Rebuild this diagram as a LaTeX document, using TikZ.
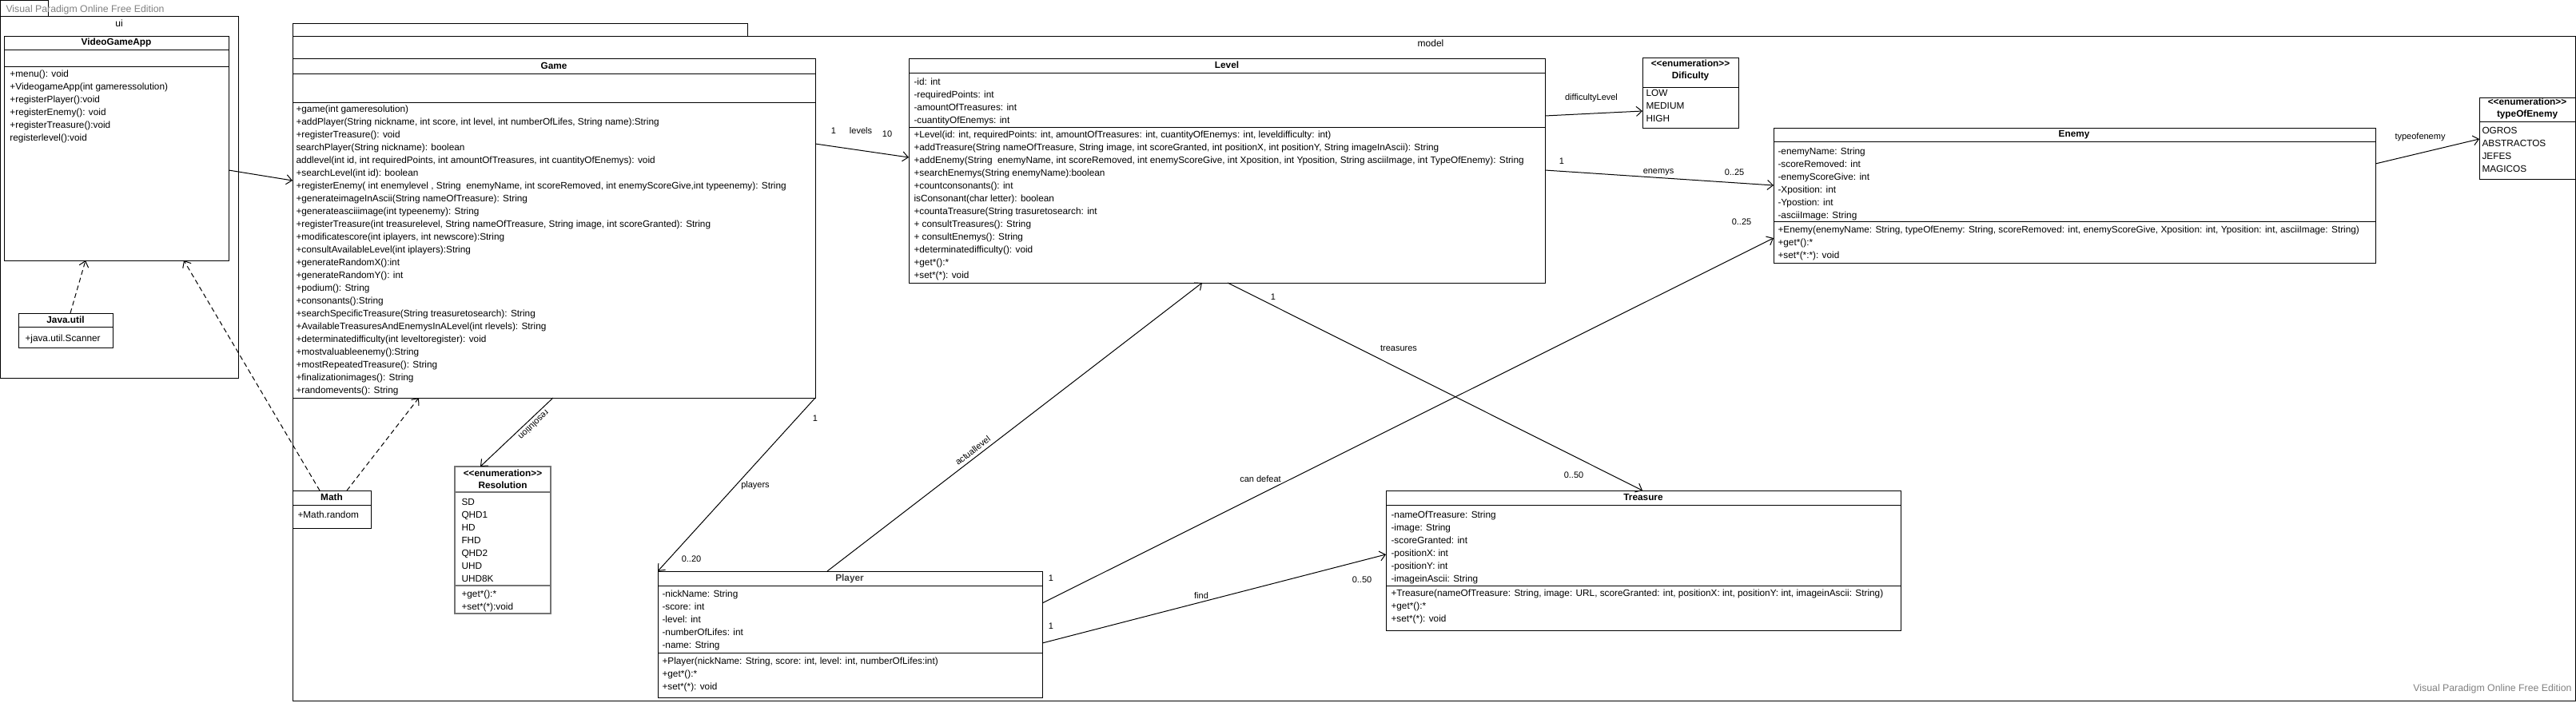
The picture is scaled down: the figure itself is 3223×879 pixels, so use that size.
\documentclass[tikz,border=0pt]{standalone}
\usepackage{fontspec}
\setmainfont{Liberation Sans}
\usetikzlibrary{arrows.meta}

\tikzset{
	umlclass/.style={draw, inner sep=0pt, outer sep=0pt, anchor=north west, fill=white},
	cname/.style={font=\bfseries\fontsize{11.8}{15}\selectfont, inner sep=0pt, align=center},
	members/.style={anchor=north west, align=left, inner sep=0pt, font=\fontsize{11.8}{16}\selectfont},
	lbl/.style={font=\fontsize{11}{13}\selectfont, inner sep=0pt},
	assoc/.style={-{Straight Barb[length=7pt,width=12pt]}},
	dep/.style={assoc, dash pattern=on 6pt off 4pt},
	watermark/.style={text=black!50, font=\fontsize{12.3}{14}\selectfont, inner sep=0pt}
}

\begin{document}
\begin{tikzpicture}[x=1pt, y=-1pt, line width=1pt]
		\useasboundingbox (0,0) rectangle (3223,879);
		
		% zeichne Pakete
		\node[umlclass, minimum width=60pt, minimum height=20pt] (uiTab) at (0,0) {};
		\node[umlclass, fill=none, minimum width=298pt, minimum height=453pt] (ui) at (0,20) {};
		\node[lbl, font=\fontsize{12}{14}\selectfont] (uiName) at (149,29) {ui};
		\node[umlclass, fill=none, minimum width=569pt, minimum height=16pt] (modelTab) at (366,29) {};
		\node[umlclass, fill=none, minimum width=2856pt, minimum height=832pt] (model) at (366,45) {};
		\node[lbl, font=\fontsize{12}{14}\selectfont] (modelName) at (1790,54) {model};
		\node[watermark, anchor=west] (wmTop) at (7,12) {Visual Paradigm Online Free Edition};
		\node[watermark, anchor=east] (wmBottom) at (3218,862) {Visual Paradigm Online Free Edition};
		
		% Klassen im Paket ui
		\node[umlclass, minimum width=281pt, minimum height=281pt] (videoGameApp) at (5,45) {};
		\draw (5,62) -- (286,62) (5,83) -- (286,83);
		\node[cname] (videoGameAppName) at (145.5,53.5) {VideoGameApp};
		\node[members] (videoGameAppOps) at (12,87.5) {+menu(): void\\+VideogameApp(int gameressolution)\\+registerPlayer():void\\+registerEnemy(): void\\+registerTreasure():void\\registerlevel():void};
		
		\node[umlclass, minimum width=118pt, minimum height=43pt] (javaUtil) at (23,392) {};
		\draw (23,409) -- (141,409);
		\node[cname] (javaUtilName) at (82,400.5) {Java.util};
		\node[members] (javaUtilOps) at (31,418.5) {+java.util.Scanner};
		
		% Klassen im Paket model
		\node[umlclass, minimum width=654pt, minimum height=425pt] (game) at (366,73) {};
		\draw (366,92) -- (1020,92) (366,128) -- (1020,128);
		\node[cname] (gameName) at (693,82) {Game};
		\node[members] (gameOps) at (370,131.5) {+game(int gameresolution)\\
			+addPlayer(String nickname, int score, int level, int numberOfLifes, String name):String\\
			+registerTreasure(): void\\
			searchPlayer(String nickname): boolean\\
			addlevel(int id, int requiredPoints, int amountOfTreasures, int cuantityOfEnemys): void\\
			+searchLevel(int id): boolean\\
			+registerEnemy( int enemylevel , String \ enemyName, int scoreRemoved, int enemyScoreGive,int typeenemy): String\\
			+generateimageInAscii(String nameOfTreasure): String\\
			+generateasciiimage(int typeenemy): String\\
			+registerTreasure(int treasurelevel, String nameOfTreasure, String image, int scoreGranted): String\\
			+modificatescore(int iplayers, int newscore):String\\
			+consultAvailableLevel(int iplayers):String\\
			+generateRandomX():int\\
			+generateRandomY(): int\\
			+podium(): String\\
			+consonants():String\\
			+searchSpecificTreasure(String treasuretosearch): String\\
			+AvailableTreasuresAndEnemysInALevel(int rlevels): String\\
			+determinatedifficulty(int leveltoregister): void\\
			+mostvaluableenemy():String\\
			+mostRepeatedTreasure(): String\\
			+finalizationimages(): String\\
			+randomevents(): String};
		
		\node[umlclass, minimum width=796pt, minimum height=281pt] (level) at (1137,73) {};
		\draw (1137,91) -- (1933,91) (1137,159) -- (1933,159);
		\node[cname] (levelName) at (1535,81) {Level};
		\node[members] (levelAttrs) at (1143,97.5) {-id: int\\-requiredPoints: int\\-amountOfTreasures: int\\-cuantityOfEnemys: int};
		\node[members] (levelOps) at (1143,163.5) {+Level(id: int, requiredPoints: int, amountOfTreasures: int, cuantityOfEnemys: int, leveldifficulty: int)\\
			+addTreasure(String nameOfTreasure, String image, int scoreGranted, int positionX, int positionY, String imageInAscii): String\\
			+addEnemy(String \ enemyName, int scoreRemoved, int enemyScoreGive, int Xposition, int Yposition, String asciiImage, int TypeOfEnemy): String\\
			+searchEnemys(String enemyName):boolean\\
			+countconsonants(): int\\
			isConsonant(char letter): boolean\\
			+countaTreasure(String trasuretosearch: int\\
			+ consultTreasures(): String\\
			+ consultEnemys(): String\\
			+determinatedifficulty(): void\\
			+get*():*\\
			+set*(*): void};
		
		\node[umlclass, minimum width=120pt, minimum height=88pt] (dificulty) at (2055,72) {};
		\draw (2055,109) -- (2175,109);
		\node[cname] (dificultyName) at (2115,87.5) {<\kern0pt<enumeration>\kern0pt>\\Dificulty};
		\node[members] (dificultyVals) at (2059,111.5) {LOW\\MEDIUM\\HIGH};
		
		\node[umlclass, minimum width=753pt, minimum height=169pt] (enemy) at (2219,160) {};
		\draw (2219,177) -- (2972,177) (2219,277) -- (2972,277);
		\node[cname] (enemyName) at (2595,169) {Enemy};
		\node[members] (enemyAttrs) at (2224,184.5) {-enemyName: String\\-scoreRemoved: int\\-enemyScoreGive: int\\-Xposition: int\\-Ypostion: int\\-asciiImage: String};
		\node[members] (enemyOps) at (2224,282.5) {+Enemy(enemyName: String, typeOfEnemy: String, scoreRemoved: int, enemyScoreGive, Xposition: int, Yposition: int, asciiImage: String)\\+get*():*\\+set*(*:*): void};
		
		\node[umlclass, minimum width=120pt, minimum height=102pt] (typeOfEnemy) at (3102,122) {};
		\draw (3102,152) -- (3222,152);
		\node[cname] (typeOfEnemyName) at (3162,135.5) {<\kern0pt<enumeration>\kern0pt>\\typeOfEnemy};
		\node[members] (typeOfEnemyVals) at (3105,158.5) {OGROS\\ABSTRACTOS\\JEFES\\MAGICOS};
		
		\node[umlclass, draw=black!55, line width=1.6pt, minimum width=120pt, minimum height=184pt] (resolution) at (569,584) {};
		\draw[black!55, line width=1.6pt] (569,616) -- (689,616) (569,733) -- (689,733);
		\node[cname] (resolutionName) at (629,600) {<\kern0pt<enumeration>\kern0pt>\\Resolution};
		\node[members] (resolutionVals) at (577,623.5) {SD\\QHD1\\HD\\FHD\\QHD2\\UHD\\UHD8K};
		\node[members] (resolutionOps) at (577,738.5) {+get*():*\\+set*(*):void};
		
		\node[umlclass, minimum width=98pt, minimum height=47pt] (mathBox) at (366,614) {};
		\draw (366,632) -- (464,632);
		\node[cname] (mathBoxName) at (415,622) {Math};
		\node[members] (mathBoxOps) at (372,639.5) {+Math.random};
		
		\node[umlclass, minimum width=481pt, minimum height=158pt] (player) at (823,715) {};
		\draw (823,733) -- (1304,733) (823,817) -- (1304,817);
		\node[cname, text=black!75] (playerName) at (1063,724) {Player};
		\node[members] (playerAttrs) at (828,738.5) {-nickName: String\\-score: int\\-level: int\\-numberOfLifes: int\\-name: String};
		\node[members] (playerOps) at (828,822.5) {+Player(nickName: String, score: int, level: int, numberOfLifes:int)\\+get*():*\\+set*(*): void};
		
		\node[umlclass, minimum width=644pt, minimum height=175pt] (treasure) at (1734,614) {};
		\draw (1734,632) -- (2378,632) (1734,733) -- (2378,733);
		\node[cname] (treasureName) at (2056,622) {Treasure};
		\node[members] (treasureAttrs) at (1740,639.5) {-nameOfTreasure: String\\-image: String\\-scoreGranted: int\\-positionX: int\\-positionY: int\\-imageinAscii: String};
		\node[members] (treasureOps) at (1740,737.5) {+Treasure(nameOfTreasure: String, image: URL, scoreGranted: int, positionX: int, positionY: int, imageinAscii: String)\\+get*():*\\+set*(*): void};
		
		% zeichne Abhaengigkeiten
		\draw[dep] (javaUtil.north -| 88,0) -- (videoGameApp.south -| 107,0);
		\draw[dep] (mathBox.north -| 400,0) -- (videoGameApp.south -| 230,0);
		\draw[dep] (mathBox.north -| 434,0) -- (game.south -| 524,0);
		
		% zeichne Assoziationen
		\draw[assoc] (videoGameApp.east |- 0,213) -- (game.west |- 0,226);
		\draw[assoc] (game.south -| 692,0) -- (resolution.north -| 601,0);
		\draw[assoc] (game.south east) -- (player.north west);
		\draw[assoc] (game.east |- 0,180) -- (level.west |- 0,197);
		\draw[assoc] (level.east |- 0,145) -- (dificulty.west |- 0,139);
		\draw[assoc] (level.east |- 0,213) -- (enemy.west |- 0,232);
		\draw[assoc] (enemy.east |- 0,205) -- (typeOfEnemy.west |- 0,174);
		\draw[assoc] (player.north -| 1035,0) -- (level.south -| 1504,0);
		\draw[assoc] (level.south -| 1536,0) -- (treasure.north -| 2055,0);
		\draw[assoc] (player.east |- 0,755) -- (enemy.west |- 0,298);
		\draw[assoc] (player.east |- 0,805) -- (treasure.west |- 0,694);
		
		% Beschriftungen
		\node[lbl] (lLevels1) at (1043,164) {1};
		\node[lbl] (lLevels) at (1077,164) {levels};
		\node[lbl] (lLevels10) at (1110,168) {10};
		\node[lbl] (lPlayers1) at (1020,524) {1};
		\node[lbl] (lPlayers) at (945,608) {players};
		\node[lbl] (lPlayers20) at (865,700) {0..20};
		\node[lbl, rotate=223.4] (lResolution) at (668,532) {resolution};
		\node[lbl] (lDifficulty) at (1991,123) {difficultyLevel};
		\node[lbl] (lEnemys1) at (1954,202) {1};
		\node[lbl] (lEnemys) at (2075,216) {enemys};
		\node[lbl] (lEnemys25) at (2170,216) {0..25};
		\node[lbl] (lType) at (3028,172) {typeofenemy};
		\node[lbl, rotate=37.6] (lActual) at (1217,564) {actuallevel};
		\node[lbl] (lTreasures1) at (1593,372) {1};
		\node[lbl] (lTreasures) at (1750,436) {treasures};
		\node[lbl] (lTreasures50) at (1969,595) {0..50};
		\node[lbl] (lDefeat1) at (1315,724) {1};
		\node[lbl] (lDefeat) at (1577,600) {can defeat};
		\node[lbl] (lDefeat25) at (2179,278) {0..25};
		\node[lbl] (lFind1) at (1315,784) {1};
		\node[lbl] (lFind) at (1503,746) {find};
		\node[lbl] (lFind50) at (1704,726) {0..50};
	\end{tikzpicture}
\end{document}
